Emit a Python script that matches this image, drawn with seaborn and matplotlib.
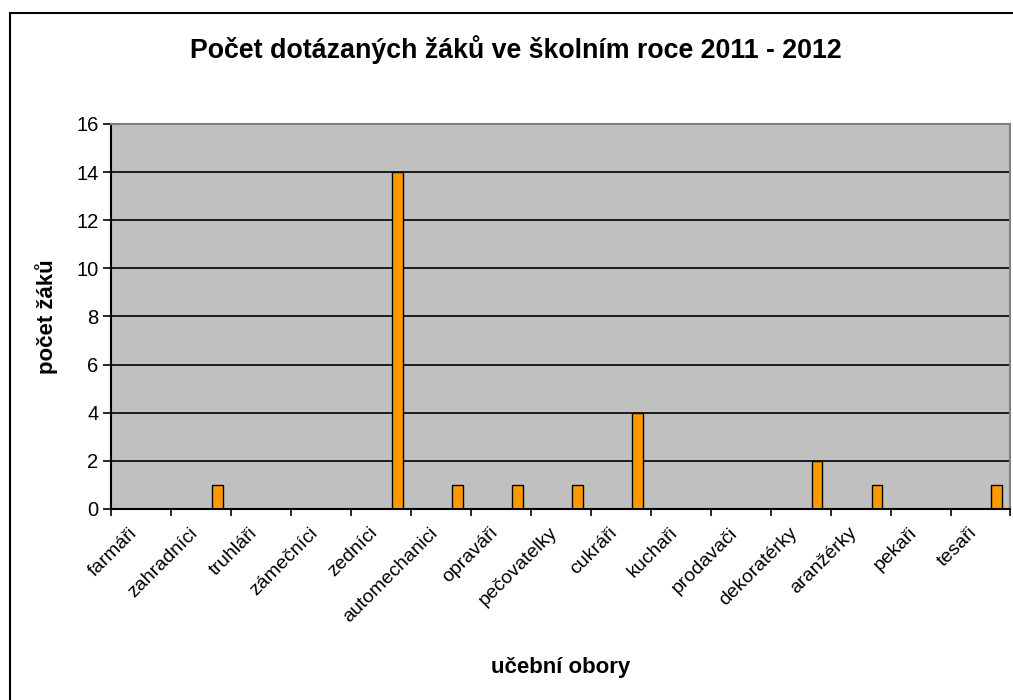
import pandas as pd
import matplotlib
matplotlib.use('Agg')
import matplotlib.pyplot as plt
import seaborn as sns
from matplotlib.patches import Rectangle

# data
obory = ['farmáři', 'zahradníci', 'truhláři', 'zámečníci', 'zedníci',
         'automechanici', 'opraváři', 'pečovatelky', 'cukráři', 'kuchaři',
         'prodavači', 'dekoratérky', 'aranžérky', 'pekaři', 'tesaři']
pocet_zaku = [0, 1, 0, 0, 14, 1, 1, 1, 4, 0, 0, 2, 1, 0, 1]
# the Excel chart reserves four series slots per category, only the last one is filled
rady = ['řada 1', 'řada 2', 'řada 3', 'řada 4']
rada_dat = 'řada 4'
y_ticks = [0, 2, 4, 6, 8, 10, 12, 14, 16]

df = pd.DataFrame({'obor': obory, 'pocet': pocet_zaku, 'rada': rada_dat})

sns.set_style('white')
plt.rcParams['font.family'] = ['Liberation Sans', 'DejaVu Sans']
plt.rcParams['text.color'] = 'black'
plt.rcParams['axes.labelcolor'] = 'black'
plt.rcParams['xtick.color'] = 'black'
plt.rcParams['ytick.color'] = 'black'

fig, ax = plt.subplots(figsize=(10.13, 7.0), dpi=100)
fig.subplots_adjust(left=0.1096, right=0.9975, top=0.8229, bottom=0.2729)

sns.barplot(data=df, x='obor', y='pocet', hue='rada', order=obory, hue_order=rady,
            palette={r: '#FF9900' for r in rady}, saturation=1, width=0.73, dodge=True,
            edgecolor='black', linewidth=1.0, legend=False, ax=ax)

# plot area styling
ax.set_facecolor('#C0C0C0')
ax.set_axisbelow(True)
ax.yaxis.grid(True, color='black', linewidth=1.2)
ax.xaxis.grid(False)
ax.set_ylim(0, 16)
ax.set_xlim(-0.5, len(obory) - 0.5)
ax.set_yticks(y_ticks)
for side in ['left', 'bottom']:
    ax.spines[side].set_color('black')
    ax.spines[side].set_linewidth(1.5)
for side in ['top', 'right']:
    ax.spines[side].set_color('#808080')
    ax.spines[side].set_linewidth(1.5)

ax.tick_params(axis='y', which='major', direction='out', length=6, width=1.2,
               color='black', labelsize=14.5, pad=3, left=True)
ax.set_xticks(range(len(obory)))
ax.set_xticklabels(obory, rotation=45, ha='right', va='top', fontsize=14)
ax.tick_params(axis='x', which='major', length=0, pad=11)
ax.set_xticks([i - 0.5 for i in range(len(obory) + 1)], minor=True)
ax.tick_params(axis='x', which='minor', direction='out', length=5, width=1.2,
               color='black', bottom=True)

ax.set_xlabel('učební obory', fontsize=16, weight='bold', va='center')
ax.xaxis.set_label_coords(0.5, -(668 - 509) / 385)
ax.set_ylabel('počet žáků', fontsize=16, weight='bold', va='center')
ax.yaxis.set_label_coords((47 - 111) / 899, 0.5)

fig.text(516 / 1013, 1 - 50 / 700, 'Počet dotázaných žáků ve školním roce 2011 - 2012',
         ha='center', va='center', fontsize=19.3, weight='bold')

# outer chart border (runs off the right and bottom edges like the reference)
fig.patches.append(Rectangle((9.5 / 1013, -0.05), 1.1, (700 - 12.5) / 700 + 0.05,
                             transform=fig.transFigure, fill=False,
                             edgecolor='black', linewidth=1.5))

fig.savefig('out.png', dpi=100)
